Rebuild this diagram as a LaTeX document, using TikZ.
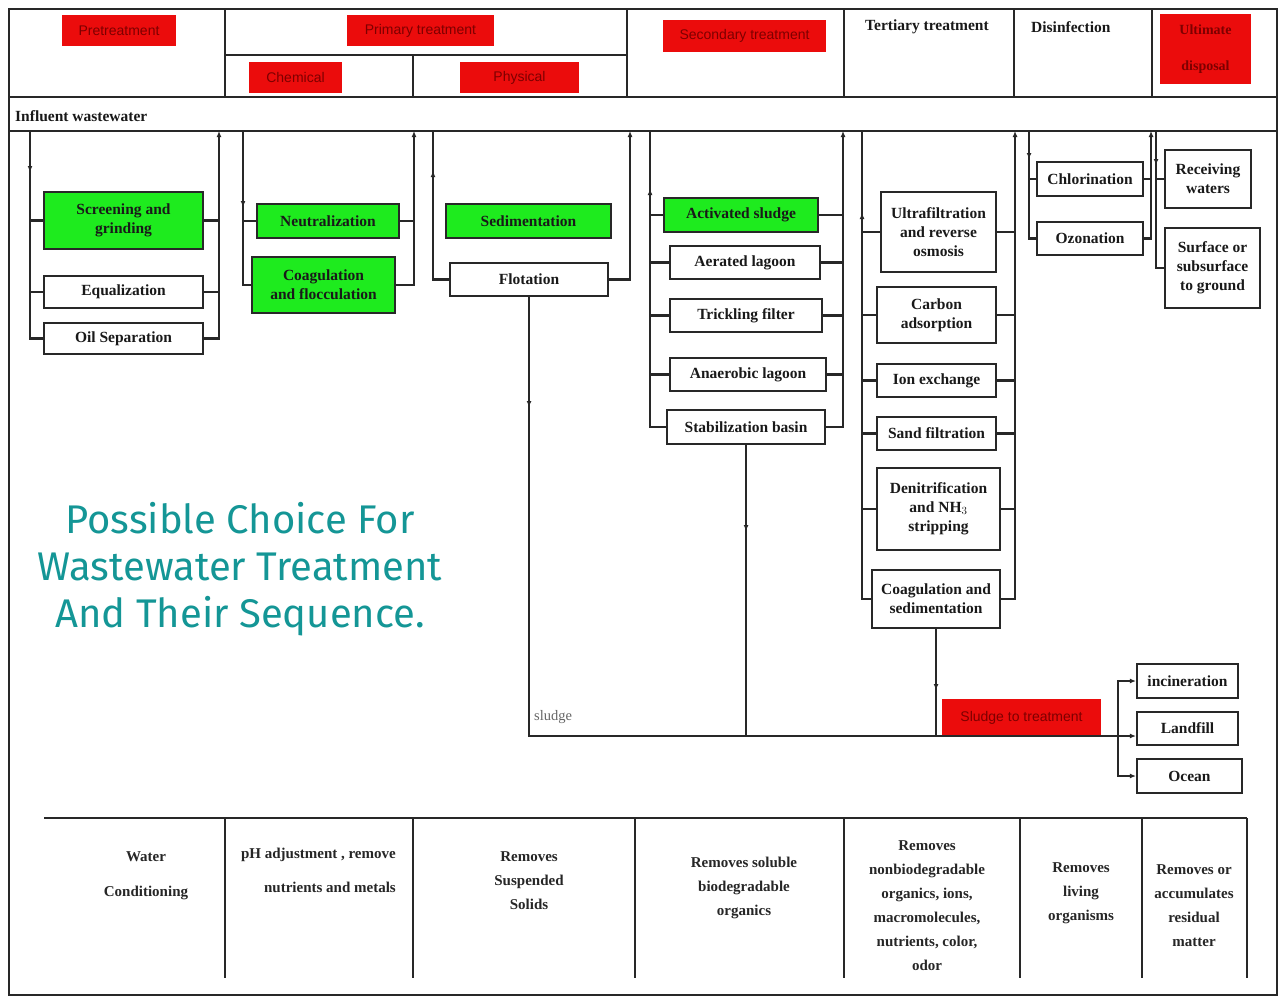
\documentclass[tikz,border=0pt]{standalone}
\usepackage{fontspec}
\setmainfont{Liberation Serif}
\newfontfamily\tealfont{Fira Sans}
\newfontfamily\redfont{Liberation Sans}
\usetikzlibrary{arrows.meta}
\definecolor{boxgreen}{RGB}{30,235,30}
\definecolor{hdrred}{RGB}{235,12,12}
\definecolor{hdrtext}{RGB}{125,0,0}
\definecolor{tealtxt}{RGB}{20,150,150}
\definecolor{ln}{RGB}{40,40,40}
\newcommand\mkbox[6]{\node[#1, minimum width=#4, minimum height=#5] (#2) at (#3) {#6};}
\begin{document}
\begin{tikzpicture}[x=1pt,y=-1pt,
  box/.style={draw=ln, line width=2.2pt, fill=white, inner sep=1pt, align=center,
    font=\fontsize{15.5}{19}\selectfont\bfseries, text=black!90},
  gbox/.style={box, fill=boxgreen},
  rbox/.style={fill=hdrred, draw=none, inner sep=0pt, align=center,
    font=\redfont\fontsize{14}{20}\selectfont, text=hdrtext},
  frame/.style={draw=ln, line width=2.2pt},
  bus/.style={draw=ln, line width=2.2pt},
  tip/.style={-{Latex[length=6pt,width=5pt]}},
  hdr/.style={font=\fontsize{15.5}{19}\selectfont\bfseries, text=black!90, inner sep=0pt},
  btxt/.style={font=\fontsize{15}{24}\selectfont\bfseries, text=black!85, align=center, inner sep=0pt},
]
\useasboundingbox (0,0) rectangle (1281,997);
\fill[white] (0,0) rectangle (1281,997);

% ---------- frame and header ----------
\draw[frame] (9,9) rectangle (1277,995);
\draw[frame] (9,97) -- (1277,97);
\draw[frame] (9,131) -- (1277,131);
\foreach \x in {225,627,844,1014,1152} \draw[frame] (\x,9) -- (\x,97);
\draw[frame] (225,55) -- (627,55);
\draw[frame] (413,55) -- (413,97);

\mkbox{rbox}{pre}{119,30.5}{114}{31}{Pretreatment}
\mkbox{rbox}{pri}{420.5,30.5}{147}{31}{Primary treatment}
\mkbox{rbox}{che}{295.5,77.5}{93}{31}{Chemical}
\mkbox{rbox}{phy}{519.5,77.5}{119}{31}{Physical}
\mkbox{rbox}{sec}{744.5,36}{163}{32}{Secondary treatment}
\node[rbox, minimum width=91, minimum height=70, font=\fontsize{14}{36}\selectfont\bfseries] (ud) at (1205.5,49) {Ultimate\\disposal};
\node[hdr, anchor=west] (ter) at (865,27) {Tertiary treatment};
\node[hdr, anchor=west] (dis) at (1031,27) {Disinfection};
\node[hdr, anchor=west] (inf) at (15,116) {Influent wastewater};

% ---------- pretreatment ----------
\mkbox{gbox}{scr}{123.5,220.5}{159}{57}{Screening and\\grinding}
\mkbox{box}{equ}{123.5,292}{159}{32}{Equalization}
\mkbox{box}{oil}{123.5,338.5}{159}{31}{Oil Separation}
\coordinate (pL) at (30,131); \coordinate (pR) at (219,131);
\draw[bus,tip] (pL) -- (30,172);
\draw[bus] (pL) |- (oil.west);
\draw[bus] (scr.west) -- (scr.west -| pL);
\draw[bus] (equ.west) -- (equ.west -| pL);
\draw[bus,tip] (oil.east) -| (pR);
\draw[bus] (scr.east) -- (scr.east -| pR);
\draw[bus] (equ.east) -- (equ.east -| pR);

% ---------- primary chemical ----------
\mkbox{gbox}{neu}{328,221}{142}{34}{Neutralization}
\mkbox{gbox}{coa}{323.5,285}{143}{56}{Coagulation\\and flocculation}
\coordinate (cL) at (243,131); \coordinate (cR) at (414,131);
\draw[bus,tip] (cL) -- (243,207);
\draw[bus] (cL) |- (coa.west);
\draw[bus] (neu.west) -- (neu.west -| cL);
\draw[bus,tip] (coa.east) -| (cR);
\draw[bus] (neu.east) -- (neu.east -| cR);

% ---------- primary physical ----------
\mkbox{gbox}{sed}{528.5,221}{165}{34}{Sedimentation}
\mkbox{box}{flo}{529,279.5}{158}{33}{Flotation}
\coordinate (hL) at (433,131); \coordinate (hR) at (630,131);
\draw[bus] (flo.west) -| (hL);
\draw[bus,tip] (433,200) -- (433,171);
\draw[bus,tip] (flo.east) -| (hR);

% ---------- secondary ----------
\mkbox{gbox}{act}{741,215}{154}{34}{Activated sludge}
\mkbox{box}{aer}{745,262.5}{150}{33}{Aerated lagoon}
\mkbox{box}{tri}{746,315.5}{152}{33}{Trickling filter}
\mkbox{box}{ana}{748,374.5}{156}{33}{Anaerobic lagoon}
\mkbox{box}{sta}{746,427}{158}{34}{Stabilization basin}
\coordinate (sL) at (650,131); \coordinate (sR) at (843,131);
\draw[bus] (sta.west) -| (sL);
\draw[bus,tip] (650,215) -- (650,189);
\foreach \n in {act,aer,tri,ana} {
  \draw[bus] (\n.west) -- (\n.west -| sL);
  \draw[bus] (\n.east) -- (\n.east -| sR);
}
\draw[bus,tip] (sta.east) -| (sR);

% ---------- tertiary ----------
\mkbox{box}{ult}{938.5,232}{115}{80}{Ultrafiltration\\and reverse\\osmosis}
\mkbox{box}{car}{936.5,315}{119}{56}{Carbon\\adsorption}
\mkbox{box}{ion}{936.5,380.5}{119}{33}{Ion exchange}
\mkbox{box}{san}{936.5,433.5}{119}{33}{Sand filtration}
\mkbox{box}{den}{938.5,509}{123}{82}{Denitrification\\and NH$_3$\\stripping}
\mkbox{box}{cos}{936,599}{128}{58}{Coagulation and\\sedimentation}
\coordinate (tL) at (862,131); \coordinate (tR) at (1015,131);
\draw[bus] (cos.west) -| (tL);
\draw[bus,tip] (862,240) -- (862,213);
\foreach \n in {ult,car,ion,san,den} {
  \draw[bus] (\n.west) -- (\n.west -| tL);
  \draw[bus] (\n.east) -- (\n.east -| tR);
}
\draw[bus,tip] (cos.east) -| (tR);

% ---------- disinfection ----------
\mkbox{box}{chl}{1090,179}{106}{34}{Chlorination}
\mkbox{box}{ozo}{1090,238.5}{106}{33}{Ozonation}
\coordinate (dL) at (1029,131); \coordinate (dR) at (1151,131);
\draw[bus,tip] (dL) -- (1029,159);
\draw[bus] (dL) |- (ozo.west);
\draw[bus] (chl.west) -- (chl.west -| dL);
\draw[bus,tip] (ozo.east) -| (dR);
\draw[bus] (chl.east) -- (chl.east -| dR);

% ---------- ultimate disposal ----------
\mkbox{box}{rec}{1208,179}{86}{58}{Receiving\\waters}
\mkbox{box}{sur}{1212.5,268}{95}{80}{Surface or\\subsurface\\to ground}
\coordinate (uL) at (1156,131);
\draw[bus,tip] (uL) -- (1156,165);
\draw[bus] (uL) |- (sur.west);
\draw[bus] (rec.west) -- (rec.west -| uL);

% ---------- sludge ----------
\mkbox{rbox}{stt}{1021.5,717.5}{159}{37}{Sludge to treatment}
\mkbox{box}{inc}{1187.5,681}{101}{34}{incineration}
\mkbox{box}{lan}{1187.5,728.5}{101}{33}{Landfill}
\mkbox{box}{oce}{1189.5,776}{105}{34}{Ocean}
\coordinate (s1) at (529,736); \coordinate (sb) at (1118,736);
\draw[bus,tip] (flo.south) -- (flo.south |- 0,407);
\draw[bus] (flo.south) -- (s1) -- (sb);
\draw[bus,tip] (sta.south) -- (sta.south |- 0,531);
\draw[bus] (sta.south) -- (sta.south |- s1);
\draw[bus,tip] (cos.south) -- (cos.south |- 0,690);
\draw[bus] (cos.south) -- (cos.south |- s1);
\draw[bus,tip] (sb) |- (inc.west);
\draw[bus,tip] (sb) -- (sb -| lan.west);
\draw[bus,tip] (sb) |- (oce.west);
\node[font=\fontsize{14.5}{16}\selectfont, text=black!60, anchor=west, inner sep=0pt] (slabel) at (534,717) {sludge};

% ---------- title ----------
\node[font=\tealfont\fontsize{40}{47}\selectfont, text=tealtxt, align=center] (title) at (240,569) {Possible Choice For\\Wastewater Treatment\\And Their Sequence.};

% ---------- bottom table ----------
\draw[frame] (44,818) -- (1247,818);
\foreach \x in {225,413,635,844,1020,1142,1247} \draw[frame] (\x,818) -- (\x,978);
\node[btxt, font=\fontsize{15}{35}\selectfont\bfseries] (b1) at (146,875.5) {Water\\Conditioning};
\node[btxt, font=\fontsize{15}{34}\selectfont\bfseries, align=right, anchor=east] (b2) at (396,870) {pH adjustment , remove\\nutrients and metals};
\node[btxt] (b3) at (529,881) {Removes\\Suspended\\Solids};
\node[btxt] (b4) at (744,888) {Removes soluble\\biodegradable\\organics};
\node[btxt] (b5) at (927,905.5) {Removes\\nonbiodegradable\\organics, ions,\\macromolecules,\\nutrients, color,\\odor};
\node[btxt] (b6) at (1081,893.5) {Removes\\living\\organisms};
\node[btxt] (b7) at (1194,905.5) {Removes or\\accumulates\\residual\\matter};
\end{tikzpicture}
\end{document}
